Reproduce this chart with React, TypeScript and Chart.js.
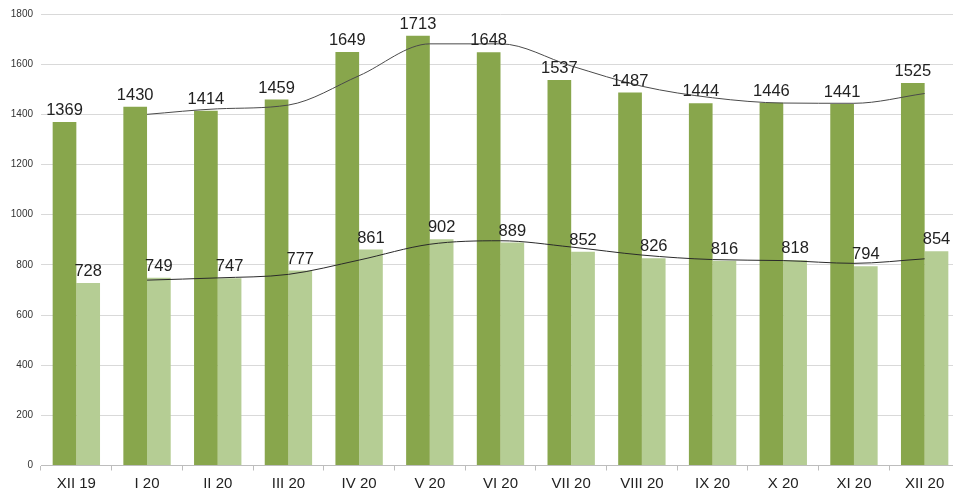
import React, { useEffect, useRef } from "react";
import { Chart, registerables } from "chart.js";

Chart.register(...registerables);

const categories = ["XII 19", "I 20", "II 20", "III 20", "IV 20", "V 20", "VI 20", "VII 20", "VIII 20", "IX 20", "X 20", "XI 20", "XII 20"];
const totalValues = [1369, 1430, 1414, 1459, 1649, 1713, 1648, 1537, 1487, 1444, 1446, 1441, 1525];
const secondValues = [728, 749, 747, 777, 861, 902, 889, 852, 826, 816, 818, 794, 854];
const totalTrend = [null, 1400, 1422, 1437, 1554, 1681, 1681, 1593, 1512, 1466, 1445, 1444, 1483];
const secondTrend = [null, 739, 748, 762, 819, 882, 896, 871, 839, 821, 817, 806, 824];
const yMin = 0;
const yMax = 1800;
const yStep = 200;

const FONT = "'Liberation Sans', Arial, sans-serif";

const labelPlugin = {
  id: "barValueLabels",
  afterDatasetsDraw(chart: any) {
    const ctx = chart.ctx;
    ctx.save();
    ctx.font = `16.5px ${FONT}`;
    ctx.fillStyle = "#222";
    ctx.textAlign = "center";
    ctx.textBaseline = "alphabetic";
    chart.data.datasets.forEach((ds: any, i: number) => {
      if (ds.type !== "bar") return;
      const meta = chart.getDatasetMeta(i);
      meta.data.forEach((el: any, j: number) => {
        const v = ds.data[j];
        if (v == null) return;
        ctx.fillText(String(v), el.x, el.y - 7);
      });
    });
    ctx.restore();
  },
};

export default function App() {
  const ref = useRef<HTMLCanvasElement>(null);
  useEffect(() => {
    if (!ref.current) return;
    const chart = new Chart(ref.current, {
      type: "bar",
      data: {
        labels: categories,
        datasets: [
          {
            type: "line",
            data: totalTrend as any,
            borderColor: "#4a4a4a",
            borderWidth: 1,
            pointRadius: 0,
            cubicInterpolationMode: "monotone",
            fill: false,
            order: 0,
          } as any,
          {
            type: "line",
            data: secondTrend as any,
            borderColor: "#2a2a2a",
            borderWidth: 1,
            pointRadius: 0,
            cubicInterpolationMode: "monotone",
            fill: false,
            order: 0,
          } as any,
          {
            type: "bar",
            data: totalValues,
            backgroundColor: "#88a64c",
            categoryPercentage: 0.67,
            barPercentage: 1.0,
            order: 1,
          } as any,
          {
            type: "bar",
            data: secondValues,
            backgroundColor: "#b5cd94",
            categoryPercentage: 0.67,
            barPercentage: 1.0,
            order: 1,
          } as any,
        ],
      },
      options: {
        animation: false,
        responsive: false,
        maintainAspectRatio: false,
        layout: { padding: { top: 10, right: 0, bottom: 0, left: 0 } },
        plugins: { legend: { display: false }, tooltip: { enabled: false } },
        scales: {
          x: {
            grid: { offset: true, drawOnChartArea: false, drawTicks: true, tickLength: 5, color: "#bdbdbd" },
            border: { color: "#bdbdbd" },
            ticks: { font: { family: FONT, size: 15 }, color: "#222", padding: 4, maxRotation: 0, autoSkip: false },
            afterFit: (s: any) => { s.height = 27.5; },
          },
          y: {
            min: yMin,
            max: yMax,
            grid: { color: "#d9d9d9", drawTicks: false },
            border: { display: false },
            ticks: {
              stepSize: yStep,
              font: { family: FONT, size: 10 },
              color: "#333",
              padding: 8,
              callback: (v: any) => String(v),
            },
            afterFit: (s: any) => { s.width = 41; },
          },
        },
      },
      plugins: [labelPlugin],
    });
    return () => chart.destroy();
  }, []);
  return (
    <div style={{ position: "fixed", left: 0, top: 0, width: 953, height: 493, overflow: "hidden", background: "#fff" }}>
      <canvas ref={ref} width={960} height={493} style={{ display: "block", width: 960, height: 493 }} />
    </div>
  );
}
